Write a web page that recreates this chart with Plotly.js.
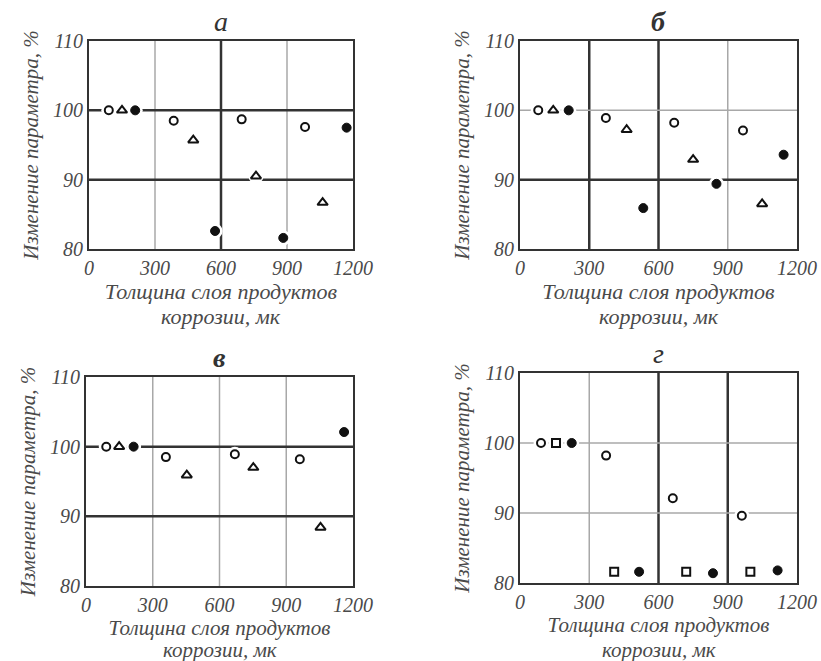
<!DOCTYPE html>
<html>
<head>
<meta charset="utf-8">
<script src="https://cdn.plot.ly/plotly-3.0.1.min.js"></script>
<style>html,body{margin:0;padding:0;background:#fff;}#chart{width:821px;height:661px;}</style>
</head>
<body>
<div id="chart"></div>
<script>
// ---- data ----
const panelLetters = ['а', 'б', 'в', 'г'];
const xTicks = [0, 300, 600, 900, 1200];
const yTicks = [80, 90, 100, 110];

// panel а
const a_open_x = [90, 385, 694, 982];
const a_open_y = [100, 98.5, 98.7, 97.6];
const a_tri_x  = [150, 474, 759, 1062];
const a_tri_y  = [100, 95.7, 90.5, 86.7];
const a_fill_x = [210, 573, 883, 1171];
const a_fill_y = [100, 82.6, 81.6, 97.5];

// panel б
const b_open_x = [79, 372, 668, 966];
const b_open_y = [100, 98.9, 98.2, 97.1];
const b_tri_x  = [144, 462, 750, 1049];
const b_tri_y  = [100, 97.2, 92.9, 86.5];
const b_fill_x = [211, 534, 851, 1142];
const b_fill_y = [100, 85.9, 89.4, 93.6];

// panel в
const v_open_x = [91, 359, 669, 961];
const v_open_y = [100, 98.5, 98.9, 98.2];
const v_tri_x  = [149, 453, 752, 1054];
const v_tri_y  = [100, 95.9, 97.0, 88.4];
const v_fill_x = [214, 1160];
const v_fill_y = [100, 102.1];

// panel г
const g_open_x = [91, 373, 662, 961];
const g_open_y = [100, 98.2, 92.1, 89.6];
const g_sq_x   = [156, 408, 720, 998];
const g_sq_y   = [100, 81.6, 81.6, 81.6];
const g_fill_x = [224, 516, 836, 1116];
const g_fill_y = [100, 81.6, 81.4, 81.8];

// interior grid lines and which of them are heavy, per panel
const gridX = [300, 600, 900];
const gridY = [90, 100];
const heavyX = [[600], [300, 600], [], [600, 900]];
const heavyY = [[100, 90], [90], [100, 90], []];

const xTitleLine1 = 'Толщина слоя продуктов';
const xTitleLine2 = 'коррозии, мк';
const yTitle = 'Изменение параметра, %';

// ---- layout geometry ----
const W = 821, H = 661;
const boxes = [
  {l: 89, r: 353, t: 41, b: 249},
  {l: 520, r: 797, t: 41, b: 249},
  {l: 86, r: 353, t: 377, b: 586},
  {l: 520, r: 797, t: 373, b: 583}
];
const letterWeights = ['normal', 'bold', 'bold', 'normal'];
const xTitleSize = [22, 22, 21, 21];
const xTitleStandoff = [5, 5, 2, 2];
const line2Shift = [-67, -67, -64, -67];

const panels = [
  [[a_open_x, a_open_y, 'open'], [a_tri_x, a_tri_y, 'tri'], [a_fill_x, a_fill_y, 'fill']],
  [[b_open_x, b_open_y, 'open'], [b_tri_x, b_tri_y, 'tri'], [b_fill_x, b_fill_y, 'fill']],
  [[v_open_x, v_open_y, 'open'], [v_tri_x, v_tri_y, 'tri'], [v_fill_x, v_fill_y, 'fill']],
  [[g_open_x, g_open_y, 'open'], [g_sq_x, g_sq_y, 'sq'], [g_fill_x, g_fill_y, 'fill']]
];

const styles = {
  open: {symbol: 'circle', size: 8, color: '#fff', line: {color: '#111', width: 2}},
  tri:  {symbol: 'triangle-up', size: 9, color: '#fff', line: {color: '#111', width: 2}},
  sq:   {symbol: 'square', size: 8, color: '#fff', line: {color: '#111', width: 2}},
  fill: {symbol: 'circle', size: 9, color: '#111', line: {color: '#111', width: 1}}
};

const FONT = 'Liberation Serif, Times New Roman, serif';
const textColor = '#4a4a4a';
const lightGrid = {color: '#a8a8a8', width: 1.5};
const heavyGrid = {color: '#333', width: 2.5};

const data = [];
const layout = {
  width: W, height: H,
  margin: {l: 0, r: 0, t: 0, b: 0},
  paper_bgcolor: '#fff', plot_bgcolor: '#fff',
  showlegend: false,
  font: {family: FONT, color: textColor},
  shapes: [], annotations: []
};

panels.forEach((series, i) => {
  const n = i === 0 ? '' : String(i + 1);
  const xa = 'x' + n, ya = 'y' + n;
  const bx = boxes[i];
  // white halos to break grid lines around markers
  series.forEach(s => {
    data.push({x: s[0], y: s[1], xaxis: xa, yaxis: ya, type: 'scatter', mode: 'markers',
      hoverinfo: 'skip', marker: {symbol: 'circle', size: 15, color: '#fff', line: {width: 0}}});
  });
  series.forEach(s => {
    data.push({x: s[0], y: s[1], xaxis: xa, yaxis: ya, type: 'scatter', mode: 'markers',
      marker: styles[s[2]]});
  });
  layout['xaxis' + n] = {
    domain: [bx.l / W, bx.r / W], anchor: ya, range: [0, 1200],
    tickvals: xTicks, ticktext: xTicks.map(v => '<i>' + v + '</i>'), ticks: '',
    showgrid: false, zeroline: false,
    showline: true, mirror: true, linecolor: '#333', linewidth: 2,
    tickfont: {family: FONT, size: 20, style: 'italic', color: textColor},
    title: {text: xTitleLine1, standoff: xTitleStandoff[i],
      font: {family: FONT, size: xTitleSize[i], style: 'italic', color: textColor}}
  };
  layout['yaxis' + n] = {
    domain: [1 - bx.b / H, 1 - bx.t / H], anchor: xa, range: [80, 110],
    tickvals: yTicks, ticktext: yTicks.map(v => '<i>' + v + '</i>'), ticks: '',
    showgrid: false, zeroline: false,
    showline: true, mirror: true, linecolor: '#333', linewidth: 2,
    tickfont: {family: FONT, size: 20, style: 'italic', color: textColor},
    title: {text: yTitle, standoff: 9, font: {family: FONT, size: 21, style: 'italic', color: textColor}}
  };
  gridX.forEach(v => layout.shapes.push({type: 'line', layer: 'below', xref: xa, yref: ya + ' domain',
    x0: v, x1: v, y0: 0, y1: 1, line: heavyX[i].includes(v) ? heavyGrid : lightGrid}));
  gridY.forEach(v => layout.shapes.push({type: 'line', layer: 'below', xref: xa + ' domain', yref: ya,
    x0: 0, x1: 1, y0: v, y1: v, line: heavyY[i].includes(v) ? heavyGrid : lightGrid}));
  layout.annotations.push({text: panelLetters[i], xref: xa + ' domain', yref: ya + ' domain',
    x: 0.5, y: 1, yanchor: 'bottom', yshift: 2, showarrow: false,
    font: {family: FONT, size: 28, style: 'italic', weight: letterWeights[i], color: '#333'}});
  layout.annotations.push({text: xTitleLine2, xref: xa + ' domain', yref: ya + ' domain',
    x: 0.5, y: 0, yanchor: 'middle', yshift: line2Shift[i], showarrow: false,
    font: {family: FONT, size: xTitleSize[i], style: 'italic', color: textColor}});
});

Plotly.newPlot('chart', data, layout, {displayModeBar: false, staticPlot: true});
</script>
</body>
</html>
